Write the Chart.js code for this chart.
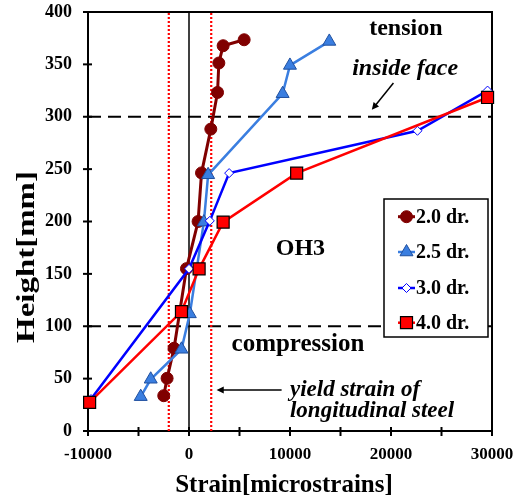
<!DOCTYPE html>
<html>
<head>
<meta charset="utf-8">
<script src="https://cdn.jsdelivr.net/npm/chart.js@4/dist/chart.umd.min.js"></script>
<style>
html,body{margin:0;padding:0;background:#fff;}
#wrap{width:524px;height:501px;}
</style>
</head>
<body>
<div id="wrap"><canvas id="c" width="524" height="501"></canvas></div>
<script>
// ---- data ----
const seriesNames = ["2.0 dr.", "2.5 dr.", "3.0 dr.", "4.0 dr."];
const strain20 = [5460, 3380, 2955, 2825, 2160, 1240, 900, -250, -1480, -2170, -2500];
const height20 = [373.5, 367.8, 351.3, 323.2, 288.2, 246.4, 200, 155, 79, 50.3, 33.7];
const strain25 = [13890, 9995, 9270, 1895, 1470, 80, -745, -3790, -4780];
const height25 = [371.9, 349, 322, 244.6, 199.4, 111.8, 78, 49.4, 32.8];
const strain30 = [29560, 22620, 3975, 2060, 0, -9700];
const height30 = [325, 286.6, 246.2, 200.6, 154.8, 30.5];
const strain40 = [29560, 10660, 3380, 1000, -745, -9840];
const height40 = [318.4, 246.2, 199.4, 154.8, 114, 27.4];
const yieldStrains = [-2000, 2200];
const faceHeights = [100, 300];
const xTickLabels = [-10000, 0, 10000, 20000, 30000];

const FONT = "'Liberation Serif','Times New Roman',serif";
const pts = (xs, ys) => xs.map((x, i) => ({x: x, y: ys[i]}));

const styles = [
  {color:'#800000', fill:'#800000', edge:'#800000', style:'circle', r:6, lw:3, bw:1},
  {color:'#3a7ee0', fill:'#3a7ee0', edge:'#1f4f9e', style:'triangle', r:7.5, lw:2.5, bw:1},
  {color:'#0000ff', fill:'#ffffff', edge:'#0000ff', style:'rectRot', r:4.5, lw:2.5, bw:1},
  {color:'#ff0000', fill:'#ff0000', edge:'#000000', style:'rect', r:8.5, lw:2.5, bw:1.2}
];
const seriesData = [pts(strain20, height20), pts(strain25, height25), pts(strain30, height30), pts(strain40, height40)];

const datasets = [];
yieldStrains.forEach(v => datasets.push({
  label:'_yield', data:[{x:v,y:0},{x:v,y:400}], borderColor:'#ff0000', borderWidth:2.2,
  borderDash:[2,2], pointRadius:0, order:20, clip:false
}));
faceHeights.forEach(v => datasets.push({
  label:'_face', data:[{x:-10000,y:v},{x:30000,y:v}], borderColor:'#000000', borderWidth:2.2,
  borderDash:[13,7], pointRadius:0, order:20, clip:false
}));
datasets.push({label:'_zero', data:[{x:0,y:0},{x:0,y:400}], borderColor:'#000', borderWidth:1.5, pointRadius:0, order:19});
seriesNames.forEach((n, i) => {
  const s = styles[i];
  datasets.push({
    label:n, data:seriesData[i], borderColor:s.color, borderWidth:s.lw,
    pointStyle:s.style, pointRadius:s.r, pointBackgroundColor:s.fill,
    pointBorderColor:s.edge, pointBorderWidth:s.bw, pointHoverRadius:s.r,
    order:4-i, clip:false, tension:0
  });
});

const annotations = [
  {text:'tension', x:21470, y:378.3, align:'center', italic:false, size:24},
  {text:'inside face', x:21400, y:340, align:'center', italic:true, size:24},
  {text:'OH3', x:11035, y:168, align:'center', italic:false, size:24},
  {text:'compression', x:10790, y:76.7, align:'center', italic:false, size:25},
  {text:'yield strain of', x:9995, y:33.4, align:'left', italic:true, size:23},
  {text:'longitudinal steel', x:9995, y:13.7, align:'left', italic:true, size:23}
];
const arrows = [
  {x1:20240, y1:332.2, x2:18100, y2:306.6},
  {x1:9170, y1:39.2, x2:2730, y2:39.2}
];

const framePlugin = {
  id:'frame',
  beforeDatasetsDraw(chart){
    const {ctx, chartArea:a, scales} = chart;
    ctx.save();
    ctx.strokeStyle = '#000';
    ctx.lineWidth = 2;
    ctx.strokeRect(a.left, a.top, a.right - a.left, a.bottom - a.top);
    scales.x.ticks.forEach(t => {
      const px = scales.x.getPixelForValue(t.value);
      ctx.beginPath(); ctx.moveTo(px, a.bottom - 4); ctx.lineTo(px, a.bottom + 5); ctx.stroke();
    });
    scales.y.ticks.forEach(t => {
      const py = scales.y.getPixelForValue(t.value);
      ctx.beginPath(); ctx.moveTo(a.left - 5, py); ctx.lineTo(a.left + 4, py); ctx.stroke();
    });
    ctx.restore();
  },
  afterDraw(chart){
    const {ctx, scales} = chart;
    const X = v => scales.x.getPixelForValue(v), Y = v => scales.y.getPixelForValue(v);
    ctx.save();
    ctx.fillStyle = '#000';
    annotations.forEach(an => {
      ctx.font = (an.italic ? 'italic ' : '') + 'bold ' + an.size + 'px ' + FONT;
      ctx.textAlign = an.align; ctx.textBaseline = 'alphabetic';
      ctx.fillText(an.text, X(an.x), Y(an.y));
    });
    ctx.strokeStyle = '#000'; ctx.lineWidth = 1.5;
    arrows.forEach(ar => {
      const x1 = X(ar.x1), y1 = Y(ar.y1), x2 = X(ar.x2), y2 = Y(ar.y2);
      const ang = Math.atan2(y2 - y1, x2 - x1);
      ctx.beginPath(); ctx.moveTo(x1, y1); ctx.lineTo(x2 - 3*Math.cos(ang), y2 - 3*Math.sin(ang)); ctx.stroke();
      ctx.beginPath();
      ctx.moveTo(x2, y2);
      ctx.lineTo(x2 - 8*Math.cos(ang - 0.45), y2 - 8*Math.sin(ang - 0.45));
      ctx.lineTo(x2 - 8*Math.cos(ang + 0.45), y2 - 8*Math.sin(ang + 0.45));
      ctx.closePath(); ctx.fill();
    });
    ctx.font = 'bold 25px ' + FONT;
    ctx.textAlign = 'center'; ctx.textBaseline = 'middle';
    ctx.fillText('Strain[microstrains]', 284, 486);
    ctx.save();
    ctx.translate(28, 257);
    ctx.rotate(-Math.PI/2);
    ctx.font = 'bold 25px ' + FONT;
    const w = ctx.measureText('Height[mm]').width;
    ctx.scale(172 / w, 1);
    ctx.fillText('Height[mm]', 0, 0);
    ctx.restore();
    const lx = 384, ly = 199, lw = 104, lh = 138;
    ctx.fillStyle = '#fff'; ctx.fillRect(lx, ly, lw, lh);
    ctx.strokeStyle = '#000'; ctx.lineWidth = 1.5; ctx.strokeRect(lx, ly, lw, lh);
    const rows = [216.7, 252, 288, 322.7];
    seriesNames.forEach((n, i) => {
      const s = styles[i], yy = rows[i];
      ctx.strokeStyle = s.color; ctx.lineWidth = s.lw;
      ctx.beginPath(); ctx.moveTo(398, yy); ctx.lineTo(415, yy); ctx.stroke();
      ctx.fillStyle = s.fill; ctx.strokeStyle = s.edge; ctx.lineWidth = s.bw;
      Chart.helpers.drawPoint(ctx, {pointStyle:s.style, radius:s.r, rotation:0, borderWidth:s.bw}, 406.5, yy);
      ctx.fillStyle = '#000';
      ctx.font = 'bold 20px ' + FONT;
      ctx.textAlign = 'left'; ctx.textBaseline = 'middle';
      ctx.fillText(n, 416, yy + 1);
    });
    ctx.restore();
  }
};

new Chart(document.getElementById('c'), {
  type:'line',
  data:{datasets:datasets},
  options:{
    responsive:false, animation:false,
    layout:{padding:{left:0, right:32, top:12, bottom:0}},
    plugins:{legend:{display:false}, tooltip:{enabled:false}, title:{display:false}},
    elements:{line:{tension:0}},
    scales:{
      x:{type:'linear', min:-10000, max:30000,
        grid:{display:false}, border:{display:false},
        ticks:{stepSize:5000, padding:5, color:'#000', maxRotation:0, autoSkip:false,
          font:{family:FONT, size:17, weight:'bold'},
          callback:v => xTickLabels.includes(v) ? String(v) : ''},
        afterFit:s => { s.height = 70; s.paddingLeft = 0; s.paddingRight = 0; }
      },
      y:{type:'linear', min:0, max:400,
        grid:{display:false}, border:{display:false},
        ticks:{stepSize:50, padding:8, color:'#000',
          font:{family:FONT, size:18, weight:'bold'}},
        afterFit:s => { s.width = 88; s.paddingTop = 0; s.paddingBottom = 0; }
      }
    }
  },
  plugins:[framePlugin]
});
</script>
</body>
</html>
